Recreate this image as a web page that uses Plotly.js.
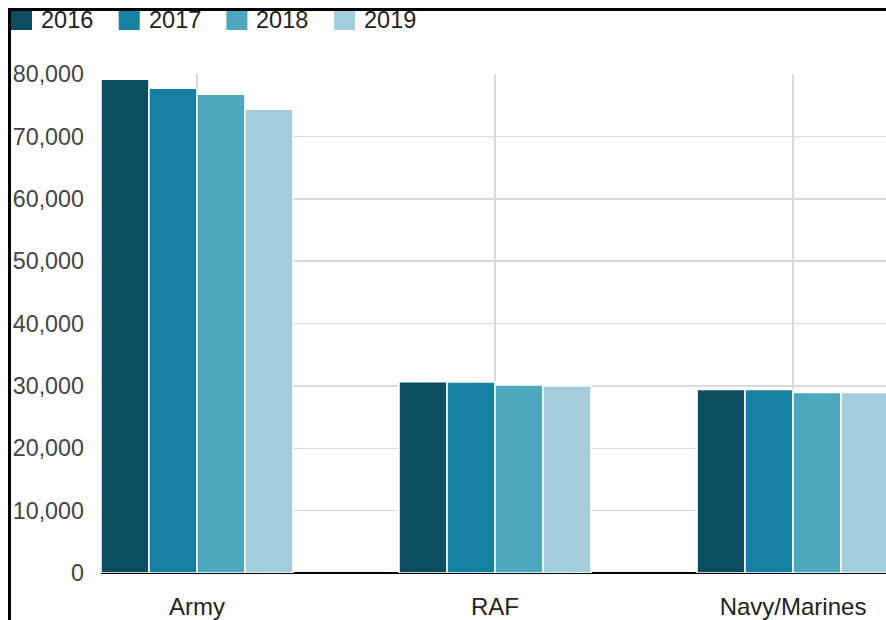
<!DOCTYPE html>
<html>
<head>
<meta charset="utf-8">
<script src="https://cdn.plot.ly/plotly-3.0.1.min.js"></script>
<style>
  html, body { margin: 0; padding: 0; overflow: hidden; background: #fff; }
  #chart { position: absolute; left: 0; top: 0; width: 899px; height: 620px; }
  #frame { position: absolute; left: 8px; top: 8px; width: 920px; height: 640px;
           border-left: 3px solid #000; border-top: 3px solid #000; pointer-events: none; z-index: 5; }
</style>
</head>
<body>
<div id="chart"></div>
<div id="frame"></div>
<script>
// ---- data ----
const categories = ["Army", "RAF", "Navy/Marines"];
const years = ["2016", "2017", "2018", "2019"];
const values2016 = [79150, 30650, 29420];
const values2017 = [77700, 30630, 29400];
const values2018 = [76750, 30160, 28940];
const values2019 = [74330, 30000, 28930];
const yTickVals = [0, 10000, 20000, 30000, 40000, 50000, 60000, 70000, 80000];
const yTickText = ["0", "10,000", "20,000", "30,000", "40,000", "50,000", "60,000", "70,000", "80,000"];

// ---- styles ----
const colors = ["#0d4d60", "#1580a1", "#4ea8bd", "#a3cddb"];
const seriesValues = [values2016, values2017, values2018, values2019];
const FONT = "'Liberation Sans', Arial, sans-serif";

const margin = { l: 101, r: 10, t: 74, b: 47 };
const W = 899, H = 620;
const plotW = W - margin.l - margin.r;
const plotH = H - margin.t - margin.b;
// convert pixel positions (relative to graph div) to paper coords
const px = x => (x - margin.l) / plotW;
const py = y => 1 - (y - margin.t) / plotH;

const traces = years.map((yr, i) => ({
  type: "bar",
  name: yr,
  x: categories,
  y: seriesValues[i],
  marker: { color: colors[i], line: { color: "#ffffff", width: 1.5 } },
  showlegend: false,
  hoverinfo: "x+y+name"
}));

// custom legend (large square swatches)
const shapes = [];
const annotations = [];
const legendStart = 11;
const legendStep = 107.7;
years.forEach((yr, i) => {
  const x0 = legendStart + i * legendStep;
  shapes.push({
    type: "rect", xref: "paper", yref: "paper",
    x0: px(x0), x1: px(x0 + 21), y0: py(30), y1: py(10),
    fillcolor: colors[i], line: { width: 0 }
  });
  annotations.push({
    xref: "paper", yref: "paper", x: px(x0 + 28), y: py(20.5),
    xanchor: "left", yanchor: "middle", showarrow: false,
    text: yr, font: { family: FONT, size: 23.5, color: "#222" }
  });
});

const layout = {
  width: W, height: H,
  margin: margin,
  paper_bgcolor: "#ffffff",
  plot_bgcolor: "#ffffff",
  bargap: 0.356,
  bargroupgap: 0,
  barmode: "group",
  showlegend: false,
  font: { family: FONT, size: 24, color: "#444" },
  xaxis: {
    type: "category",
    range: [-0.322, 2.322],
    showgrid: true, gridcolor: "#d9d9d9", gridwidth: 2,
    showline: false, ticks: "",
    tickfont: { family: FONT, size: 24, color: "#222" },
    ticklabelstandoff: 17,
    fixedrange: true
  },
  yaxis: {
    range: [0, 80000],
    tickvals: yTickVals, ticktext: yTickText,
    showgrid: true, gridcolor: "#d9d9d9", gridwidth: 1.5,
    zeroline: true, zerolinecolor: "#000", zerolinewidth: 2.5,
    showline: false, ticks: "",
    tickfont: { family: FONT, size: 23.3, color: "#444" },
    ticklabelstandoff: 16,
    fixedrange: true
  },
  shapes: shapes,
  annotations: annotations
};

Plotly.newPlot("chart", traces, layout, { displayModeBar: false, staticPlot: true });
</script>
</body>
</html>
